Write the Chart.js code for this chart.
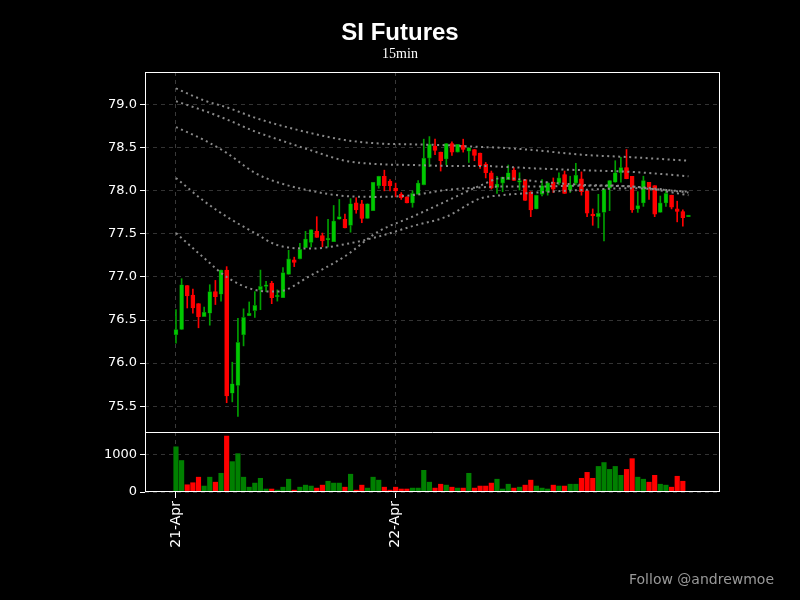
<!DOCTYPE html>
<html><head><meta charset="utf-8">
<script src="https://cdn.jsdelivr.net/npm/chart.js@4"></script>
<style>
html,body{margin:0;background:#000;width:800px;height:600px;overflow:hidden;font-family:"DejaVu Sans",sans-serif}
#t{position:absolute;top:18px;width:800px;text-align:center;color:#fff;font:bold 24px "Liberation Sans",sans-serif}
#s{position:absolute;top:46px;width:800px;text-align:center;color:#fff;font:14px "Liberation Serif",serif}
#f{position:absolute;left:629px;top:571px;color:#999;font:14px "DejaVu Sans",sans-serif}
canvas{position:absolute;left:0;top:0}
</style></head><body>
<canvas id="c" width="800" height="600"></canvas>
<div id="t">SI Futures</div><div id="s">15min</div><div id="f">Follow @andrewmoe</div>
<script>
const opens=[76.33,76.39,76.90,76.79,76.69,76.54,76.58,76.83,76.80,77.08,75.65,75.74,76.33,76.55,76.61,76.85,76.89,76.93,76.77,76.76,77.03,77.20,77.21,77.34,77.40,77.53,77.48,77.43,77.41,77.67,77.67,77.60,77.86,77.85,77.68,77.77,78.06,78.17,78.11,78.03,77.96,77.93,77.86,77.96,78.07,78.38,78.52,78.45,78.37,78.55,78.45,78.53,78.46,78.48,78.44,78.31,78.21,78.04,78.09,78.13,78.24,78.10,78.13,77.99,77.79,77.96,77.99,78.10,78.09,78.19,78.01,78.09,78.14,78.00,77.73,77.70,77.75,78.03,78.10,78.21,78.27,78.17,77.79,77.86,78.10,78.06,77.75,77.86,77.95,77.79,77.76,77.70];
const highs=[76.62,76.98,76.90,76.86,76.69,76.65,76.91,76.96,77.08,77.12,76.01,76.52,76.63,76.71,76.83,77.08,76.95,76.95,76.85,77.11,77.31,77.23,77.39,77.53,77.55,77.70,77.51,77.67,77.83,77.90,77.73,77.91,77.92,77.89,77.85,78.10,78.17,78.24,78.13,78.09,77.98,77.93,78.00,78.12,78.60,78.63,78.60,78.45,78.55,78.57,78.54,78.60,78.50,78.48,78.44,78.33,78.23,78.17,78.16,78.30,78.27,78.21,78.13,77.99,77.95,78.13,78.10,78.15,78.21,78.23,78.17,78.32,78.22,78.00,77.79,77.96,78.02,78.12,78.35,78.39,78.48,78.17,77.99,78.17,78.10,78.06,77.94,78.01,77.95,77.88,77.78,77.71];
const lows=[76.23,76.39,76.64,76.58,76.41,76.54,76.44,76.68,76.72,75.54,75.55,75.38,76.20,76.55,76.53,76.62,76.83,76.69,76.72,76.76,77.03,77.12,77.21,77.34,77.35,77.46,77.35,77.35,77.41,77.67,77.57,77.52,77.74,77.63,77.68,77.77,78.03,78.00,78.00,77.93,77.90,77.86,77.81,77.96,78.07,78.28,78.42,78.23,78.30,78.41,78.45,78.45,78.33,78.35,78.26,78.15,78.02,77.97,77.99,78.13,78.12,78.01,77.89,77.70,77.79,77.94,77.95,77.98,78.07,77.97,77.98,78.07,77.95,77.70,77.60,77.57,77.42,77.77,78.10,78.10,78.14,77.75,77.75,77.82,77.90,77.70,77.75,77.82,77.79,77.64,77.59,77.70];
const closes=[76.39,76.91,76.78,76.64,76.54,76.59,76.83,76.77,77.08,75.62,75.76,76.24,76.53,76.58,76.67,76.89,76.91,76.76,76.78,77.05,77.21,77.17,77.32,77.44,77.55,77.46,77.42,77.45,77.65,77.70,77.57,77.85,77.78,77.68,77.85,78.10,78.17,78.06,78.06,78.00,77.92,77.86,77.97,78.09,78.38,78.54,78.47,78.35,78.55,78.45,78.54,78.48,78.50,78.41,78.29,78.21,78.03,78.08,78.16,78.21,78.12,78.12,77.89,77.78,77.95,78.06,78.09,78.02,78.15,77.97,78.07,78.18,77.99,77.74,77.71,77.74,78.02,78.12,78.21,78.27,78.14,77.78,77.83,78.12,78.04,77.73,77.86,77.97,77.81,77.76,77.69,77.71];
const volumes=[1220,850,195,250,400,160,400,265,505,1510,820,1035,400,130,240,370,80,80,50,130,345,50,130,185,160,105,185,290,240,240,130,480,50,185,105,400,320,130,50,130,80,80,105,105,585,265,105,210,185,130,105,105,505,105,160,160,240,345,80,210,105,130,185,320,160,105,80,185,160,160,210,210,370,530,370,690,795,610,690,450,610,900,400,345,265,450,210,185,130,425,290,20];
const dateLabels={0:"21-Apr",39:"22-Apr"};
const priceTicks=[75.5,76,76.5,77,77.5,78,78.5,79];
const volumeTicks=[0,1000];
// dotted band lines read at selected candles
const bandIdx=[0,5,9,14,18,24,30,36,42,48,54,58,64,72,81,91];
const band1=[79.19,79.05,78.97,78.85,78.77,78.67,78.59,78.55,78.54,78.53,78.51,78.50,78.47,78.42,78.39,78.35];
const band2=[79.04,78.93,78.83,78.69,78.60,78.47,78.35,78.31,78.30,78.29,78.29,78.28,78.26,78.24,78.22,78.17];
const band3=[78.74,78.59,78.44,78.21,78.10,78.00,77.94,77.93,77.95,78.01,78.04,78.05,78.05,78.06,78.05,77.98];
const band4=[78.15,77.88,77.70,77.51,77.37,77.33,77.38,77.47,77.59,77.70,77.91,77.95,77.98,78.01,78.03,77.99];
const band5=[77.51,77.22,77.00,76.85,76.83,77.02,77.24,77.53,77.70,77.88,78.06,78.15,78.11,78.07,78.05,77.95];

const up=opens.map((o,i)=>closes[i]>=o);
const bandDs=[band1,band2,band3,band4,band5].map(a=>({type:'line',data:bandIdx.map((ix,k)=>({x:ix,y:a[k]})),yAxisID:'y',borderColor:'#8a8a8a',borderWidth:2,borderDash:[2,3.5],pointRadius:0,cubicInterpolationMode:'monotone',order:0}));

const frame={id:'frame',afterDraw(c){const x=c.ctx,a=c.chartArea,y=c.scales.y;x.save();x.strokeStyle='#fff';x.lineWidth=1;x.strokeRect(a.left+0.5,a.top+0.5,a.right-a.left-1,a.bottom-a.top-1);x.beginPath();x.moveTo(a.left,y.bottom+0.5);x.lineTo(a.right,y.bottom+0.5);x.stroke();x.restore();}};
const tf={size:13,family:'DejaVu Sans'};
new Chart(document.getElementById('c'),{
data:{datasets:[
 ...bandDs,
 {type:'bar',data:lows.map((l,i)=>({x:i,y:[l,highs[i]]})),yAxisID:'y',grouped:false,barThickness:1,backgroundColor:up.map(u=>u?'#00a000':'#ff0000'),order:2},
 {type:'bar',data:opens.map((o,i)=>({x:i,y:[o,closes[i]]})),yAxisID:'y',grouped:false,barThickness:4,minBarLength:1.5,backgroundColor:up.map(u=>u?'#00c800':'#ff0000'),borderColor:up.map(u=>u?'#007000':'#ff0000'),borderWidth:0.6,borderSkipped:false,order:1},
 {type:'bar',data:volumes.map((v,i)=>({x:i,y:v})),yAxisID:'yv',grouped:false,barThickness:4.5,backgroundColor:up.map(u=>u?'#008000':'#ff0000'),order:3}
]},
options:{responsive:false,animation:false,events:[],
 layout:{padding:{top:72,right:80,left:0,bottom:0}},
 plugins:{legend:{display:false},tooltip:{enabled:false}},
 scales:{
  x:{type:'linear',min:-5.5,max:96.6,offset:false,
   afterFit(s){s.height=108;},
   afterBuildTicks(s){s.ticks=Object.keys(dateLabels).map(k=>({value:+k}));},
   ticks:{autoSkip:false,maxRotation:90,minRotation:90,color:'#fff',font:{size:14,family:'DejaVu Sans'},callback:v=>dateLabels[v]||''},
   grid:{offset:false,color:'#3a3a3a',tickColor:'#fff',tickLength:6},
   border:{display:false,dash:[4,4]}},
  yv:{stack:'p',stackWeight:1,min:0,max:1620,position:'left',afterFit(s){s.width=145;},
   afterBuildTicks(s){s.ticks=volumeTicks.map(v=>({value:v}));},
   ticks:{color:'#fff',font:tf,callback:v=>String(v)},
   grid:{color:'#333',tickColor:'#fff',tickLength:5},border:{display:false,dash:[4,4]}},
  y:{stack:'p',stackWeight:6,min:75.2,max:79.38,position:'left',afterFit(s){s.width=145;},
   afterBuildTicks(s){s.ticks=priceTicks.map(v=>({value:v}));},
   ticks:{color:'#fff',font:tf,callback:v=>v.toFixed(1)},
   grid:{color:'#333',tickColor:'#fff',tickLength:5},border:{display:false,dash:[4,4]}}
 }},
plugins:[frame]});
</script></body></html>
